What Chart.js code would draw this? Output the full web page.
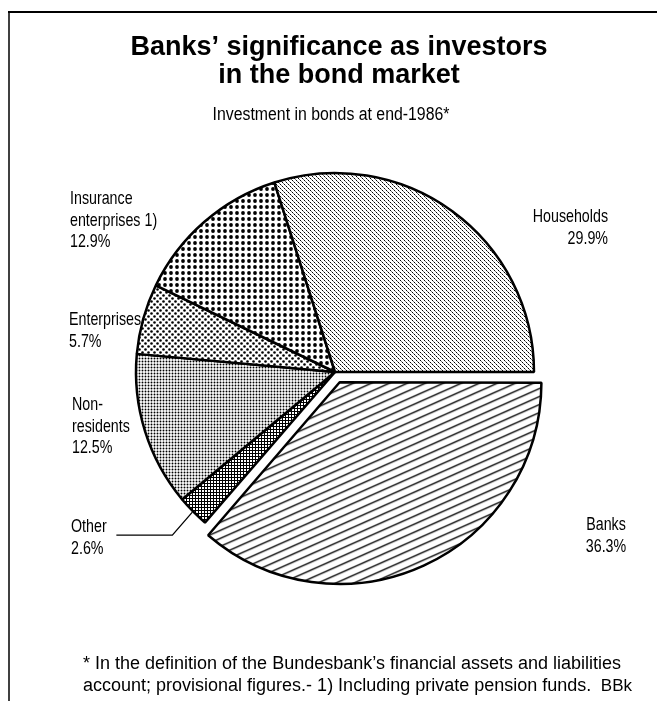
<!DOCTYPE html>
<html>
<head>
<meta charset="utf-8">
<title>Banks' significance as investors in the bond market</title>
<script src="https://cdn.jsdelivr.net/npm/chart.js@4.4.1/dist/chart.umd.min.js"></script>
<style>
  html, body { margin: 0; padding: 0; background: #fff; }
  #wrap { position: relative; width: 657px; height: 701px; }
</style>
</head>
<body>
<div id="wrap"><canvas id="bondChart" width="657" height="701"></canvas></div>
<script>
// Bond holdings by sector at end-1986 (share in %)
const sectors = ['Banks', 'Other', 'Non-residents', 'Enterprises', 'Insurance enterprises 1)', 'Households'];
const shares = [36.3, 2.6, 12.5, 5.7, 12.9, 29.9];
// label text per sector, broken into lines (percent line is added from shares)
const labelLines = [
  ['Banks'],
  ['Other'],
  ['Non-', 'residents'],
  ['Enterprises'],
  ['Insurance', 'enterprises 1)'],
  ['Households']
];
const titleLines = ['Banks\u2019 significance as investors', 'in the bond market'];
const subtitleText = 'Investment in bonds at end-1986*';
const footnoteLines = [
  '* In the definition of the Bundesbank\u2019s financial assets and liabilities',
  'account; provisional figures.- 1) Including private pension funds.'
];
const sourceTag = 'BBk';

// where each sector label sits (first baseline) and how it is aligned
const labelPos = [
  { x: 606, y: 530, align: 'center' },
  { x: 71,  y: 532, align: 'left' },
  { x: 72,  y: 410, align: 'left' },
  { x: 69,  y: 325, align: 'left' },
  { x: 70,  y: 204, align: 'left' },
  { x: 608, y: 222, align: 'right' }
];

const FONT = '"Liberation Sans", Arial, Helvetica, sans-serif';

// ---- fill patterns for the slices ----
function makeTile(w, h, paint) {
  const c = document.createElement('canvas');
  c.width = w; c.height = h;
  const g = c.getContext('2d');
  g.fillStyle = '#fff';
  g.fillRect(0, 0, w, h);
  g.fillStyle = '#000';
  g.strokeStyle = '#000';
  paint(g);
  return g.createPattern(c, 'repeat');
}

function dot(g, x, y, r) {
  g.beginPath();
  g.arc(x, y, r, 0, Math.PI * 2);
  g.fill();
}

// diagonal hatching for the banks slice
const hatchPattern = makeTile(18, 8, g => {
  g.lineWidth = 1.3;
  for (let k = -1; k <= 1; k++) {
    g.beginPath();
    g.moveTo(-18, 8 + 8 + k * 8);
    g.lineTo(36, -16 + 8 + k * 8);
    g.stroke();
  }
});
// dark cross grid (other)
const gridPattern = makeTile(3, 3, g => {
  g.fillRect(0, 0, 3, 1);
  g.fillRect(0, 0, 1, 3);
});
// fine dots (non-residents)
const fineDotPattern = makeTile(3, 3, g => dot(g, 1.5, 1.5, 0.95));
// small staggered dots (enterprises)
const smallDotPattern = makeTile(6, 6, g => {
  dot(g, 1.5, 1.5, 1.3);
  dot(g, 4.5, 4.5, 1.3);
});
// big dots (insurance)
const bigDotPattern = makeTile(6, 6, g => dot(g, 3, 3, 1.9));
// light stipple (households)
const stipplePattern = makeTile(4, 4, g => {
  g.fillRect(0, 0, 1, 1);
  g.fillRect(2, 2, 1, 1);
  g.fillStyle = '#777';
  g.fillRect(1, 1, 1, 1);
  g.fillRect(3, 3, 1, 1);
});

const slicePatterns = [hatchPattern, gridPattern, fineDotPattern, smallDotPattern, bigDotPattern, stipplePattern];

function drawText(ctx, text, x, y, font, align, squeeze) {
  ctx.save();
  ctx.font = font;
  ctx.textAlign = align;
  ctx.textBaseline = 'alphabetic';
  ctx.fillStyle = '#000';
  ctx.translate(x, y);
  ctx.scale(squeeze, 1);
  ctx.fillText(text, 0, 0);
  ctx.restore();
}

// frame, headings, slice labels, footnote
const annotations = {
  id: 'annotations',
  beforeDraw(chart) {
    const ctx = chart.ctx;
    ctx.save();
    ctx.fillStyle = '#fff';
    ctx.fillRect(0, 0, chart.width, chart.height);
    ctx.strokeStyle = '#000';
    ctx.lineWidth = 2;
    ctx.beginPath();
    ctx.moveTo(8, 12);
    ctx.lineTo(chart.width, 12);
    ctx.stroke();
    ctx.lineWidth = 1.5;
    ctx.beginPath();
    ctx.moveTo(9, 12);
    ctx.lineTo(9, chart.height);
    ctx.stroke();
    ctx.restore();
  },
  afterDraw(chart) {
    const ctx = chart.ctx;
    const titleFont = 'bold 27px ' + FONT;
    drawText(ctx, titleLines[0], 339, 55, titleFont, 'center', 1);
    drawText(ctx, titleLines[1], 339, 83, titleFont, 'center', 1);
    drawText(ctx, subtitleText, 331, 120, '18px ' + FONT, 'center', 0.88);

    const labelFont = '19px ' + FONT;
    const lineGap = 21.5;
    labelLines.forEach((lines, i) => {
      const p = labelPos[i];
      const all = lines.concat([shares[i].toFixed(1) + '%']);
      all.forEach((t, j) => drawText(ctx, t, p.x, p.y + j * lineGap, labelFont, p.align, 0.75));
    });

    // leader line from the small "Other" slice to its label
    const arc = chart.getDatasetMeta(0).data[1];
    const mid = (arc.startAngle + arc.endAngle) / 2;
    const sx = arc.x + Math.cos(mid) * (arc.outerRadius + 1);
    const sy = arc.y + Math.sin(mid) * (arc.outerRadius + 1);
    ctx.save();
    ctx.strokeStyle = '#000';
    ctx.lineWidth = 1.3;
    ctx.beginPath();
    ctx.moveTo(sx, sy);
    ctx.lineTo(sx - 20, sy + 23);
    ctx.lineTo(sx - 76, sy + 23);
    ctx.stroke();
    ctx.restore();

    const noteFont = '18px ' + FONT;
    drawText(ctx, footnoteLines[0], 83, 669, noteFont, 'left', 1);
    drawText(ctx, footnoteLines[1], 83, 691, noteFont, 'left', 1);
    drawText(ctx, sourceTag, 632, 691, '17px ' + FONT, 'right', 1);
  }
};

new Chart(document.getElementById('bondChart'), {
  type: 'pie',
  data: {
    labels: sectors,
    datasets: [{
      data: shares,
      backgroundColor: slicePatterns,
      borderColor: '#000',
      borderWidth: 2.5,
      // banks pulled out of the pie
      offset: [45, 0, 0, 0, 0, 0]
    }]
  },
  options: {
    responsive: false,
    animation: false,
    rotation: 90,
    radius: 199,
    layout: { padding: { left: 135, right: 122, top: 172, bottom: 129 } },
    events: [],
    plugins: {
      legend: { display: false },
      tooltip: { enabled: false },
      title: { display: false }
    }
  },
  plugins: [annotations]
});
</script>
</body>
</html>
